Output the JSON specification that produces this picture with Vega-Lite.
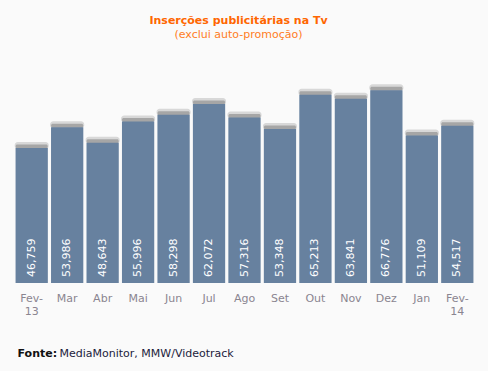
{
  "$schema": "https://vega.github.io/schema/vega-lite/v6.json",
  "autosize": {"type": "none"},
  "width": 460,
  "height": 202,
  "padding": {"left": 14.5, "top": 81, "right": 13.5, "bottom": 88},
  "background": "#fafafa",
  "config": {"view": {"stroke": null}, "font": "DejaVu Sans"},
  "title": {
    "text": "Inserções publicitárias na Tv",
    "subtitle": "(exclui auto-promoção)",
    "anchor": "middle",
    "dx": -6,
    "offset": 41,
    "font": "DejaVu Sans",
    "fontSize": 11,
    "fontWeight": "bold",
    "color": "#ff6600",
    "subtitleFont": "DejaVu Sans",
    "subtitleFontSize": 11,
    "subtitleColor": "#ff7d1f",
    "subtitlePadding": 3
  },
  "data": {
    "values": [
      {"mes": "Fev-13", "valor": 46759},
      {"mes": "Mar", "valor": 53986},
      {"mes": "Abr", "valor": 48643},
      {"mes": "Mai", "valor": 55996},
      {"mes": "Jun", "valor": 58298},
      {"mes": "Jul", "valor": 62072},
      {"mes": "Ago", "valor": 57316},
      {"mes": "Set", "valor": 53348},
      {"mes": "Out", "valor": 65213},
      {"mes": "Nov", "valor": 63841},
      {"mes": "Dez", "valor": 66776},
      {"mes": "Jan", "valor": 51109},
      {"mes": "Fev-14", "valor": 54517}
    ]
  },
  "encoding": {
    "x": {
      "field": "mes",
      "type": "nominal",
      "sort": null,
      "scale": {"paddingInner": 0.09, "paddingOuter": 0.03},
      "axis": {
        "title": "Fonte:",
        "titleFont": "DejaVu Sans",
        "titleFontSize": 11,
        "titleFontWeight": "bold",
        "titleColor": "#111111",
        "titleAnchor": "start",
        "titleAlign": "left",
        "titleBaseline": "middle",
        "titleX": 2.5,
        "titleY": 70,
        "labelAngle": 0,
        "labelFont": "DejaVu Sans",
        "labelFontSize": 11,
        "labelColor": "#8a8590",
        "labelPadding": 9,
        "labelLineHeight": 13,
        "labelBaseline": "top",
        "labelExpr": "indexof(datum.value,'-')>0 ? [split(datum.value,'-')[0]+'-', split(datum.value,'-')[1]] : datum.value",
        "domain": false,
        "ticks": false,
        "grid": false
      }
    },
    "y": {
      "field": "valor",
      "type": "quantitative",
      "scale": {"domain": [0, 70000]},
      "axis": {
        "title": "MediaMonitor, MMW/Videotrack",
        "titleFont": "DejaVu Sans",
        "titleFontSize": 11,
        "titleFontWeight": "normal",
        "titleColor": "#1c1c3c",
        "titleAngle": 0,
        "titleAlign": "left",
        "titleBaseline": "middle",
        "titleX": 44.5,
        "titleY": 272,
        "labels": false,
        "domain": false,
        "ticks": false,
        "grid": false
      }
    }
  },
  "layer": [
    {"mark": {"type": "tick", "color": "#d8d8d8", "thickness": 7, "size": 34, "yOffset": -2.5, "opacity": 1, "cornerRadius": 3}},
    {"mark": {"type": "tick", "color": "#a6a6a6", "thickness": 4, "size": 32, "yOffset": -1.5, "opacity": 1, "cornerRadius": 1.5}},
    {"mark": {"type": "bar", "color": "#67819f"}},
    {
      "mark": {"type": "text", "angle": 270, "align": "left", "baseline": "middle", "dx": 6, "color": "#ffffff", "font": "DejaVu Sans", "fontSize": 11},
      "encoding": {
        "y": {"datum": 0},
        "text": {"field": "valor", "type": "quantitative", "format": ","}
      }
    }
  ]
}
